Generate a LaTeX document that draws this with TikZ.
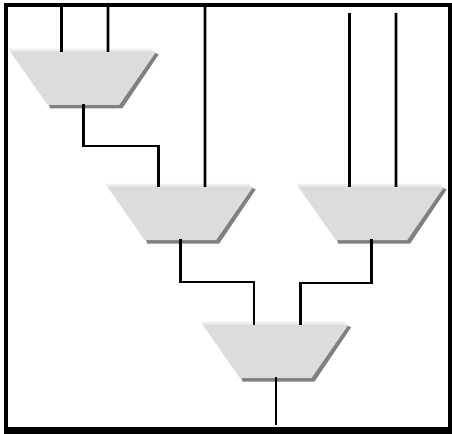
\documentclass[tikz,border=0pt]{standalone}
\definecolor{muxfill}{HTML}{DCDCDC}
\definecolor{muxlight}{HTML}{EEEEEE}
\definecolor{muxshadow}{HTML}{808080}
\tikzset{
  wire/.style={line width=1.9pt,black,line join=miter,line cap=butt},
  framebox/.style={line width=3.4pt,black},
}
\newcommand{\muxshape}[3]{%
  \begin{scope}[shift={(#2,#3)}]
    \fill[muxshadow] (40,55) -- (145,3) -- (150,5.5) -- (113.5,59.5) -- (41.5,59.5) -- cycle;
    \fill[muxlight] (0,0) -- (144,0) -- (145,3) -- (2,3) -- cycle;
    \fill[muxfill] (1.5,2.5) -- (145.5,2.5) -- (146.5,4) -- (110.5,56) -- (39,56) -- cycle;
    \coordinate (#1-a) at (53,3);
    \coordinate (#1-b) at (99.3,3);
    \coordinate (#1-o) at (75,55);
  \end{scope}}
\begin{document}
\begin{tikzpicture}[x=0.75pt,y=-0.75pt]
\useasboundingbox (0,0) rectangle (452,434);
\fill[white] (0,0) rectangle (452,434);
\draw[framebox] (6,5) -- (450,5) -- (450,429.5) -- (6,429.5) -- cycle;
\fill[black] (4,427) rectangle (452,434);
\muxshape{m1}{8.7}{49}
\muxshape{m2}{105.7}{184}
\muxshape{m3}{296.7}{184}
\muxshape{m4}{201}{322}
\coordinate (t1) at (61.7,7);
\coordinate (t2) at (108,7);
\coordinate (t3) at (205,7);
\coordinate (t4) at (349.7,13);
\coordinate (t5) at (396,13);
\coordinate (bot) at (276,425);
\draw[wire] (t1) -- (m1-a);
\draw[wire] (t2) -- (m1-b);
\draw[wire] (t3) -- (m2-b);
\draw[wire] (t4) -- (m3-a);
\draw[wire] (t5) -- (m3-b);
\draw[wire] (m1-o) -- ++(0,42) -| (m2-a);
\draw[wire] (m2-o) -- ++(0,43) -| (m4-a);
\draw[wire] (m3-o) -- ++(0,44) -| (m4-b);
\draw[wire] (m4-o) -- (bot);
\end{tikzpicture}
\end{document}
